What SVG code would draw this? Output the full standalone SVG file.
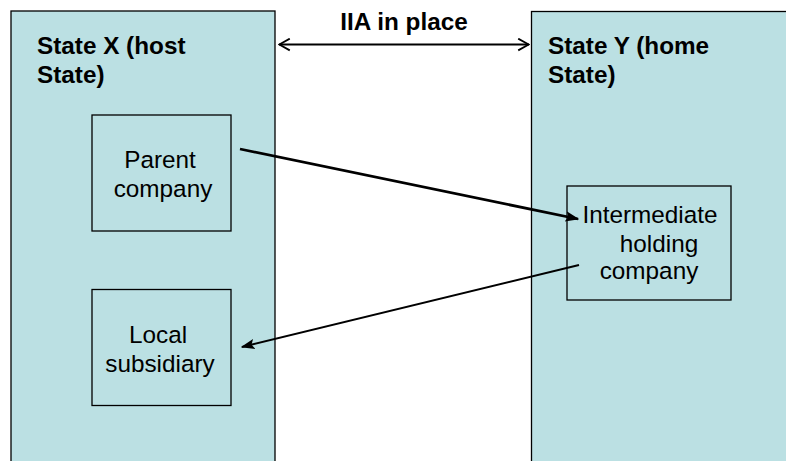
<svg xmlns="http://www.w3.org/2000/svg" width="786" height="461" viewBox="0 0 786 461">
  <defs>
    <style>
      .panel { fill: #bbe0e3; stroke: #000; stroke-width: 1.3; }
      .box { fill: #bbe0e3; stroke: #000; stroke-width: 1.3; }
      .title { font-family: "Liberation Sans", Arial, sans-serif; font-weight: bold; font-size: 24.3px; fill: #000; }
      .label { font-family: "Liberation Sans", Arial, sans-serif; font-size: 24.3px; fill: #000; text-anchor: middle; }
      .link { fill: none; stroke: #000; }
    </style>
    <marker id="open" viewBox="0 0 10 10" refX="9.2" refY="5" markerWidth="14" markerHeight="14" markerUnits="userSpaceOnUse" orient="auto-start-reverse">
      <path d="M1.5,0.8 L9,5 L1.5,9.2" fill="none" stroke="#000" stroke-width="1.3"/>
    </marker>
    <marker id="solid" viewBox="0 0 10 10" refX="9" refY="5" markerWidth="14" markerHeight="14" markerUnits="userSpaceOnUse" orient="auto">
      <path d="M0,1.3 L10,5 L0,8.7 L2,5 Z" fill="#000"/>
    </marker>
  </defs>

  <!-- host State panel -->
  <g id="stateX">
    <rect class="panel" x="11" y="11" width="264" height="460"/>
    <text class="title" x="37" y="54">State X (host</text>
    <text class="title" x="37" y="83">State)</text>
  </g>

  <!-- home State panel -->
  <g id="stateY">
    <rect class="panel" x="531.5" y="11.5" width="270" height="460"/>
    <text class="title" x="548" y="54">State Y (home</text>
    <text class="title" x="548" y="83">State)</text>
  </g>

  <g id="parent">
    <rect class="box" x="92" y="115" width="139" height="116"/>
    <text class="label" x="160" y="168">Parent</text>
    <text class="label" x="163" y="197">company</text>
  </g>

  <g id="subsidiary">
    <rect class="box" x="92" y="289.5" width="139" height="116"/>
    <text class="label" x="158" y="343">Local</text>
    <text class="label" x="160" y="372">subsidiary</text>
  </g>

  <g id="intermediate">
    <rect class="box" x="567" y="186" width="164" height="114"/>
    <text class="label" x="650" y="223">Intermediate</text>
    <text class="label" x="659" y="252">holding</text>
    <text class="label" x="649" y="279">company</text>
  </g>

  <g id="connectors">
    <line class="link" x1="279" y1="44.5" x2="529" y2="44.5" stroke-width="2" marker-start="url(#open)" marker-end="url(#open)"/>
    <text class="title" x="404" y="30" text-anchor="middle">IIA in place</text>
    <line class="link" x1="240" y1="149" x2="578" y2="219" stroke-width="2.7" marker-end="url(#solid)"/>
    <line class="link" x1="579" y1="265" x2="242" y2="347" stroke-width="2" marker-end="url(#solid)"/>
  </g>
</svg>
